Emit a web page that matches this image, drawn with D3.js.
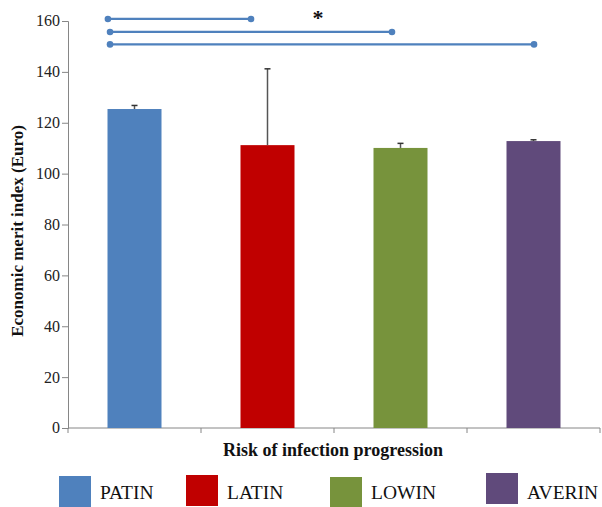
<!DOCTYPE html>
<html><head><meta charset="utf-8">
<script src="https://cdn.jsdelivr.net/npm/d3@7"></script>
<style>body{margin:0;background:#fff}svg{display:block}
.serif{font-family:'Liberation Serif','Times New Roman',Times,serif}</style>
</head><body>
<svg id="c" width="602" height="507"></svg>
<script>
const categories = ["PATIN","LATIN","LOWIN","AVERIN"];
const values = [125.4, 111.2, 110.1, 112.8];
const errors = [1.4, 30.0, 1.8, 0.5];
const colors = ["#4f81bd","#c00000","#77933c","#604a7b"];
const yTicks = [0,20,40,60,80,100,120,140,160];
// significance brackets: from category/offset (fraction of band) to category/offset, at y value
const sigLines = [
  {from:"PATIN", fOff:0.30, to:"LATIN",  tOff:0.376, y:160.8},
  {from:"PATIN", fOff:0.316, to:"LOWIN", tOff:0.436, y:155.7},
  {from:"PATIN", fOff:0.316, to:"AVERIN", tOff:0.504, y:150.8}
];
const starLabel = {text:"*", y:162.5};

const svg = d3.select("#c");
const m = {left:68, right:600, top:21, bottom:428};
const x = d3.scaleBand().domain(categories).range([m.left, m.right]).paddingInner(0).paddingOuter(0);
const y = d3.scaleLinear().domain([0,160]).range([m.bottom, m.top]);
const bw = x.bandwidth()*0.406;
const axisColor = "#868686";

// y axis
const yAxis = svg.append("g").attr("transform",`translate(${m.left},0)`)
  .call(d3.axisLeft(y).tickValues(yTicks).tickSize(6).tickFormat(""));
yAxis.select(".domain").attr("stroke",axisColor);
yAxis.selectAll(".tick line").attr("stroke",axisColor);
svg.append("g").selectAll("text").data(yTicks).join("text")
  .attr("class","serif")
  .attr("x",m.left-8).attr("y",d=>y(d)).attr("dy","0.34em").attr("text-anchor","end")
  .attr("font-size",16).attr("fill","#222").text(d=>d);

// x axis
const xAxis = svg.append("g").attr("transform",`translate(0,${m.bottom})`)
  .call(d3.axisBottom(x).tickSize(0).tickFormat(""));
xAxis.select(".domain").attr("stroke",axisColor).attr("d",`M${m.left},0H${m.right}`);
const bounds = categories.map(c=>x(c)).concat([m.right]);
svg.append("g").selectAll("line").data(bounds).join("line")
  .attr("x1",d=>d).attr("x2",d=>d).attr("y1",m.bottom).attr("y2",m.bottom+5)
  .attr("stroke",axisColor);

// bars
svg.append("g").selectAll("rect").data(categories).join("rect")
  .attr("x",c=>x(c)+x.bandwidth()/2-bw/2)
  .attr("width",bw)
  .attr("y",(c,i)=>y(values[i]))
  .attr("height",(c,i)=>y(0)-y(values[i]))
  .attr("fill",(c,i)=>colors[i]);

// error bars
const eg = svg.append("g");
categories.forEach((c,i)=>{
  const cx = x(c)+x.bandwidth()/2;
  eg.append("line").attr("x1",cx).attr("x2",cx).attr("y1",y(values[i])).attr("y2",y(values[i]+errors[i]))
    .attr("stroke","#555").attr("stroke-width",1.5);
  eg.append("line").attr("x1",cx-3).attr("x2",cx+3).attr("y1",y(values[i]+errors[i])).attr("y2",y(values[i]+errors[i]))
    .attr("stroke","#333").attr("stroke-width",1.5);
});

// significance lines
const sg = svg.append("g");
sigLines.forEach(s=>{
  const x1 = x(s.from)+s.fOff*x.bandwidth();
  const x2 = x(s.to)+s.tOff*x.bandwidth();
  sg.append("line").attr("x1",x1).attr("x2",x2).attr("y1",y(s.y)).attr("y2",y(s.y))
    .attr("stroke","#4f81bd").attr("stroke-width",2.2);
  sg.append("circle").attr("cx",x1).attr("cy",y(s.y)).attr("r",3.3).attr("fill","#4f81bd");
  sg.append("circle").attr("cx",x2).attr("cy",y(s.y)).attr("r",3.3).attr("fill","#4f81bd");
});
svg.append("text").attr("class","serif").attr("x",318).attr("y",y(starLabel.y)+10).attr("text-anchor","middle")
  .attr("font-weight","bold").attr("font-size",22)
  .attr("fill","#111").text(starLabel.text);

// axis titles
svg.append("text").attr("class","serif").attr("transform","translate(23,231) rotate(-90)").attr("text-anchor","middle")
  .attr("font-weight","bold").attr("font-size",17).attr("fill","#111")
  .text("Economic merit index (Euro)");
svg.append("text").attr("class","serif").attr("x",333).attr("y",456).attr("text-anchor","middle")
  .attr("font-weight","bold").attr("font-size",18).attr("fill","#111")
  .text("Risk of infection progression");

// legend
const legX = [59,186,330,486];
const legY = [476,475,477,473];
const lg = svg.append("g");
categories.forEach((c,i)=>{
  lg.append("rect").attr("x",legX[i]).attr("y",legY[i]).attr("width",32).attr("height",31).attr("fill",colors[i]);
  lg.append("text").attr("class","serif").attr("x",legX[i]+41).attr("y",499).attr("font-size",19.5)
    .attr("fill","#111").text(c);
});
</script>
</body></html>
